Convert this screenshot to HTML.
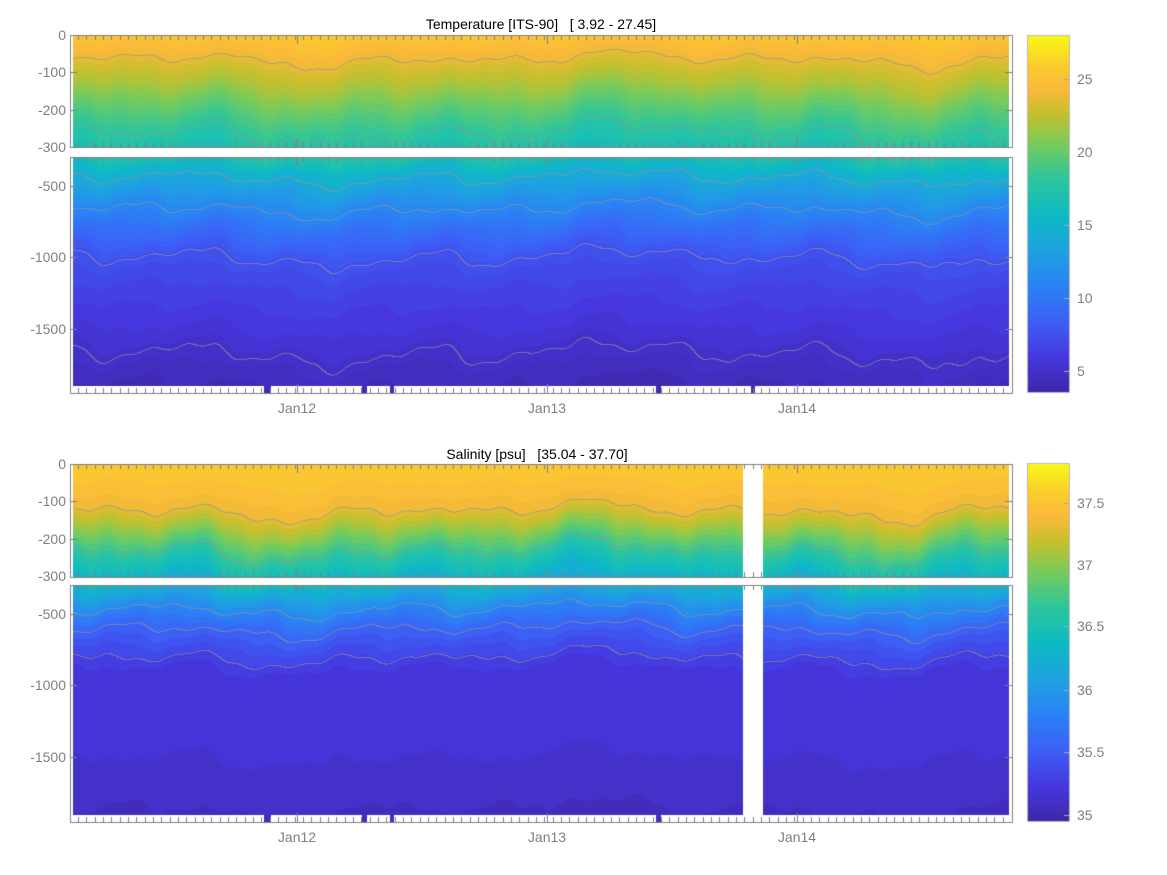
<!DOCTYPE html>
<html><head><meta charset="utf-8"><style>
body{margin:0;background:#fff;width:1167px;height:875px;overflow:hidden;position:relative;font-family:"Liberation Sans","DejaVu Sans",sans-serif}
canvas{position:absolute;left:0;top:0}
.t{position:absolute;font-size:14px;color:#000;white-space:pre;transform:translateX(-50%)}
.yl{position:absolute;font-size:14px;color:#808080;text-align:right;width:60px;left:6px}
.xl{position:absolute;font-size:14px;color:#808080;transform:translateX(-50%)}
.cl{position:absolute;font-size:14px;color:#808080;left:1077px}
</style></head><body>
<canvas id="c" width="1167" height="875"></canvas>
<div class="t" style="left:541px;top:16px">Temperature [ITS-90]   [ 3.92 - 27.45]</div>
<div class="t" style="left:537px;top:446px">Salinity [psu]   [35.04 - 37.70]</div>
<div class="yl" style="top:27px">0</div><div class="yl" style="top:64px">-100</div><div class="yl" style="top:102px">-200</div><div class="yl" style="top:139px">-300</div>
<div class="yl" style="top:178px">-500</div><div class="yl" style="top:249px">-1000</div><div class="yl" style="top:321px">-1500</div>
<div class="yl" style="top:456px">0</div><div class="yl" style="top:493px">-100</div><div class="yl" style="top:531px">-200</div><div class="yl" style="top:568px">-300</div>
<div class="yl" style="top:606px">-500</div><div class="yl" style="top:677px">-1000</div><div class="yl" style="top:749px">-1500</div>
<div class="xl" style="left:297px;top:400px">Jan12</div><div class="xl" style="left:547px;top:400px">Jan13</div><div class="xl" style="left:797px;top:400px">Jan14</div>
<div class="xl" style="left:297px;top:829px">Jan12</div><div class="xl" style="left:547px;top:829px">Jan13</div><div class="xl" style="left:797px;top:829px">Jan14</div>
<div class="cl" style="top:71px">25</div><div class="cl" style="top:144px">20</div><div class="cl" style="top:217px">15</div><div class="cl" style="top:290px">10</div><div class="cl" style="top:363px">5</div>
<div class="cl" style="top:495px">37.5</div><div class="cl" style="top:557px">37</div><div class="cl" style="top:618px">36.5</div><div class="cl" style="top:682px">36</div><div class="cl" style="top:744px">35.5</div><div class="cl" style="top:807px">35</div>
<script>
const cv=document.getElementById('c'),ctx=cv.getContext('2d');
const cm=[[0,[62,38,168]],[0.1,[70,55,222]],[0.2,[60,95,245]],[0.3,[42,130,245]],[0.4,[30,162,224]],[0.5,[14,186,196]],[0.6,[45,197,156]],[0.7,[122,203,90]],[0.78,[196,192,46]],[0.85,[251,185,58]],[0.92,[250,205,45]],[1,[249,250,20]]];
function col(v){v=Math.max(0,Math.min(1,v));for(let i=1;i<cm.length;i++){if(v<=cm[i][0]){const a=cm[i-1],b=cm[i],t=(v-a[0])/(b[0]-a[0]);return [0,1,2].map(k=>Math.round(a[1][k]+(b[1][k]-a[1][k])*t));}}return cm[cm.length-1][1];}
function interp(p,d){for(let i=1;i<p.length;i++){if(d<=p[i][0]){const t=(d-p[i-1][0])/(p[i][0]-p[i-1][0]);return p[i-1][1]+(p[i][1]-p[i-1][1])*t;}}return p[p.length-1][1];}
function nz(x,s){return Math.sin(x*0.031+s)*0.5+Math.sin(x*0.083+2*s)*0.3+Math.sin(x*0.19+3.1*s)*0.2+Math.sin(x*0.011+s*0.7)*0.6;}
const T={prof:[[0,25.5],[40,24.6],[80,23.4],[130,22.2],[170,20.8],[210,19.6],[250,18.5],[300,17.3],[400,15.2],[500,13.6],[600,12.2],[800,9.8],[1000,7.8],[1200,7],[1500,6],[1700,5.2],[1950,4.3]],min:3.5,max:28,step:0.5,lines:[24,18.3,14.6,11.5,7.8,5.3],gap:null};
const S={prof:[[0,37.6],[60,37.5],[110,37.4],[160,37.15],[210,36.85],[250,36.6],[300,36.35],[400,36.05],[500,35.8],[600,35.6],[800,35.35],[900,35.25],[1100,35.2],[1500,35.2],[1800,35.15],[1950,35.08]],min:34.94,max:37.82,step:0.08,lines:[37.35,36.75,35.9,35.6,35.35],gap:[743,763]};
function panel(P,y0,y1,d0,d1,bottomWhite,seed){
 const x0=73,x1=1009,W=x1-x0,H=y1-y0;const img=ctx.createImageData(W,H);const q=new Float32Array(W*H);
 for(let j=0;j<H;j++){const d=d0+(d1-d0)*(j+0.5)/H;
  const amp=d<300?14+d*0.06:40+d*0.02;
  for(let i=0;i<W;i++){const x=x0+i;const dd=d+amp*(nz(x,seed)+0.5*Math.sin(x*0.05+d*0.01+seed));
   q[j*W+i]=interp(P.prof,Math.max(0,dd));}}
 for(let j=0;j<H;j++)for(let i=0;i<W;i++){const v=q[j*W+i];const lv=Math.floor(v/P.step)*P.step;let c=col((lv-P.min)/(P.max-P.min));
  let line=false;for(const L of P.lines){const a=v>=L;if(i>0&&(q[j*W+i-1]>=L)!==a)line=true;if(j>0&&(q[(j-1)*W+i]>=L)!==a)line=true;}
  if(line)c=c.map(k=>Math.round(k*0.4+150*0.6));
  const x=x0+i,y=y0+j;if((P.gap&&x>=P.gap[0]&&x<P.gap[1])||(bottomWhite&&y>=bottomWhite&&!((x>263&&x<271)||(x>361&&x<367)||(x>389&&x<394)||(x>655&&x<661)||(x>750&&x<755))))c=[255,255,255];
  const k=(j*W+i)*4;img.data[k]=c[0];img.data[k+1]=c[1];img.data[k+2]=c[2];img.data[k+3]=255;}
 ctx.putImageData(img,x0,y0);
}
panel(T,36,147,0,298,0,1.3);panel(T,158,393,303,1955,386,1.3);
panel(S,465,577,0,298,0,2.1);panel(S,586,822,303,1955,815,2.1);
function cbar(y0,y1){for(let y=y0;y<y1;y++){const c=col(1-(y-y0)/(y1-y0));ctx.fillStyle=`rgb(${c})`;ctx.fillRect(1027,y,42,1);}ctx.strokeStyle='#bbb';ctx.strokeRect(1027.5,y0+0.5,42,y1-y0-1);}
cbar(35,393);cbar(463,822);
ctx.strokeStyle='#808080';ctx.lineWidth=1;
function axes(y0,y1,yt){ctx.strokeRect(70.5,y0+0.5,942,y1-y0);ctx.beginPath();
 for(let x=78;x<1010;x+=8.33){const xx=Math.round(x)+0.5;ctx.moveTo(xx,y0);ctx.lineTo(xx,y0+5);ctx.moveTo(xx,y1);ctx.lineTo(xx,y1-5);}
 for(const x of [297,547,797]){ctx.moveTo(x+0.5,y0);ctx.lineTo(x+0.5,y0+9);ctx.moveTo(x+0.5,y1);ctx.lineTo(x+0.5,y1-9);}
 for(const y of yt){ctx.moveTo(70,y+0.5);ctx.lineTo(77,y+0.5);ctx.moveTo(1012,y+0.5);ctx.lineTo(1005,y+0.5);}ctx.stroke();}
axes(35,147,[72,110]);axes(157,393,[186,257,329]);
axes(464,577,[501,539]);axes(585,822,[614,685,757]);
ctx.beginPath();for(const y of [79,152,225,298,371,503,565,626,690,752,815]){ctx.moveTo(1064,y+0.5);ctx.lineTo(1069,y+0.5);}ctx.strokeStyle='#aaa';ctx.stroke();
</script>
</body></html>
